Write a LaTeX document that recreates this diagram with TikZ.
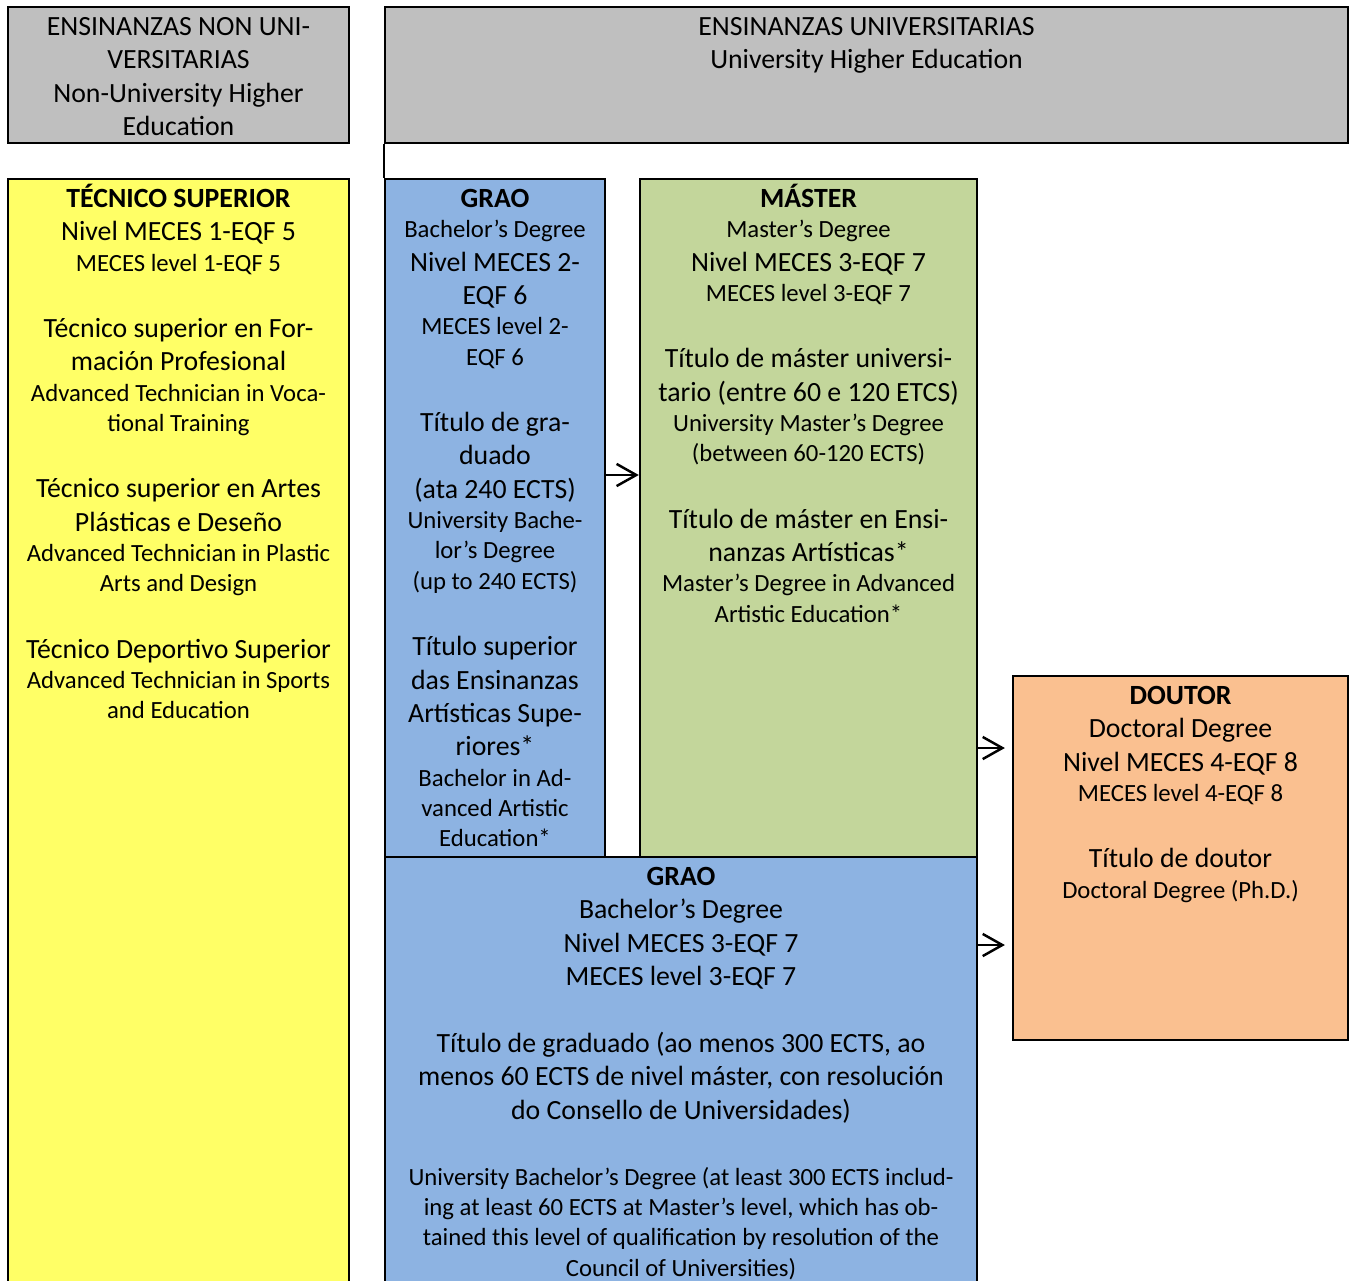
\documentclass[tikz,border=0pt]{standalone}
\usepackage{fontspec}
\setmainfont{Carlito}
\usetikzlibrary{arrows.meta,positioning,fit}
\definecolor{headgray}{HTML}{BFBFBF}
\definecolor{tecyellow}{HTML}{FFFF66}
\definecolor{graoblue}{HTML}{8DB3E2}
\definecolor{mastergreen}{HTML}{C3D69B}
\definecolor{doutororange}{HTML}{FAC090}
\newcommand\txtbig{\fontsize{11.3}{13.6}\selectfont}
\newcommand\txtsmall{\fontsize{10.05}{12.3}\selectfont}
\newcommand\blankln{\vspace{13.4pt}}

\begin{document}
\begin{tikzpicture}[x=0.4065pt, y=-0.4065pt, box/.style={draw, line width=1pt, inner sep=0pt}, txt/.style={anchor=north, yshift=-2.3pt, inner sep=0pt, align=flush center, font=\txtbig}, arrow/.style={-{Straight Barb[length=8pt, width=9pt]}, line width=1pt}]
\useasboundingbox (0,0) rectangle (1349,1280);
\clip (0,0) rectangle (1349,1280);
% boxes
\node[box, fill=headgray, fit={(8,7)(349,143)}] (nonuni) {};
\node[box, fill=headgray, fit={(385,7)(1348,143)}] (uni) {};
\node[box, fill=tecyellow, fit={(8,179)(349,1300)}] (tecnico) {};
\node[box, fill=graoblue, fit={(385,179)(605,857)}] (graotop) {};
\node[box, fill=mastergreen, fit={(640,179)(977,857)}] (master) {};
\node[box, fill=graoblue, fit={(385,857)(977,1300)}] (graobot) {};
\node[box, fill=doutororange, fit={(1013,676)(1348,1040)}] (doutor) {};
\draw[line width=1pt] (uni.south west) -- (graotop.north west);
% texts
\node[txt, text width=136pt] (nonunitxt) at (nonuni.north) {\strut ENSINANZAS NON UNI-\\VERSITARIAS\\Non-University Higher\\Education};
\node[txt, text width=380pt] (unitxt) at (uni.north) {\strut ENSINANZAS UNIVERSITARIAS\\University Higher Education};
\node[txt, text width=136pt] (tecnicotxt) at (tecnico.north) {\strut\textbf{TÉCNICO SUPERIOR}\\Nivel MECES 1-EQF 5\par{\txtsmall MECES level 1-EQF 5\par}\blankln Técnico superior en For-\\mación Profesional\par{\txtsmall Advanced Technician in Voca-\\tional Training\par}\blankln Técnico superior en Artes\\Plásticas e Deseño\par{\txtsmall Advanced Technician in Plastic\\Arts and Design\par}\blankln Técnico Deportivo Superior\par{\txtsmall Advanced Technician in Sports\\and Education\par}};
\node[txt, text width=88pt] (graotoptxt) at (graotop.north) {\strut\textbf{GRAO}\par{\txtsmall Bachelor’s Degree\par}Nivel MECES 2-\\EQF 6\par{\txtsmall MECES level 2-\\EQF 6\par}\blankln Título de gra-\\duado\\(ata 240 ECTS)\par{\txtsmall University Bache-\\lor’s Degree\\(up to 240 ECTS)\par}\blankln Título superior\\das Ensinanzas\\Artísticas Supe-\\riores*\par{\txtsmall Bachelor in Ad-\\vanced Artistic\\Education*\par}};
\node[txt, text width=134pt] (mastertxt) at (master.north) {\strut\textbf{MÁSTER}\par{\txtsmall Master’s Degree\par}Nivel MECES 3-EQF 7\par{\txtsmall MECES level 3-EQF 7\par}\blankln Título de máster universi-\\tario (entre 60 e 120 ETCS)\par{\txtsmall University Master’s Degree\\(between 60-120 ECTS)\par}\blankln Título de máster en Ensi-\\nanzas Artísticas*\par{\txtsmall Master’s Degree in Advanced\\Artistic Education*\par}};
\node[txt, text width=134pt] (doutortxt) at (doutor.north) {\strut\textbf{DOUTOR}\\Doctoral Degree\\Nivel MECES 4-EQF 8\par{\txtsmall MECES level 4-EQF 8\par}\blankln Título de doutor\par{\txtsmall Doctoral Degree (Ph.D.)\par}};
\node[txt, text width=238pt] (graobottxt) at (graobot.north) {\strut\textbf{GRAO}\\Bachelor’s Degree\\Nivel MECES 3-EQF 7\\MECES level 3-EQF 7\par\blankln Título de graduado (ao menos 300 ECTS, ao\\menos 60 ECTS de nivel máster, con resolución\\do Consello de Universidades)\par{\txtsmall\vspace{14.6pt}University Bachelor’s Degree (at least 300 ECTS includ-\\ing at least 60 ECTS at Master’s level, which has ob-\\tained this level of qualification by resolution of the\\Council of Universities)\par}};
% arrows
\draw[arrow] (graotop.east |- 0,475) -- (master.west |- 0,475);
\draw[arrow, shorten >=2.8pt] (master.east |- 0,748) -- (doutor.west |- 0,748);
\draw[arrow, shorten >=2.8pt] (graobot.east |- 0,945) -- (doutor.west |- 0,945);
\end{tikzpicture}
\end{document}
